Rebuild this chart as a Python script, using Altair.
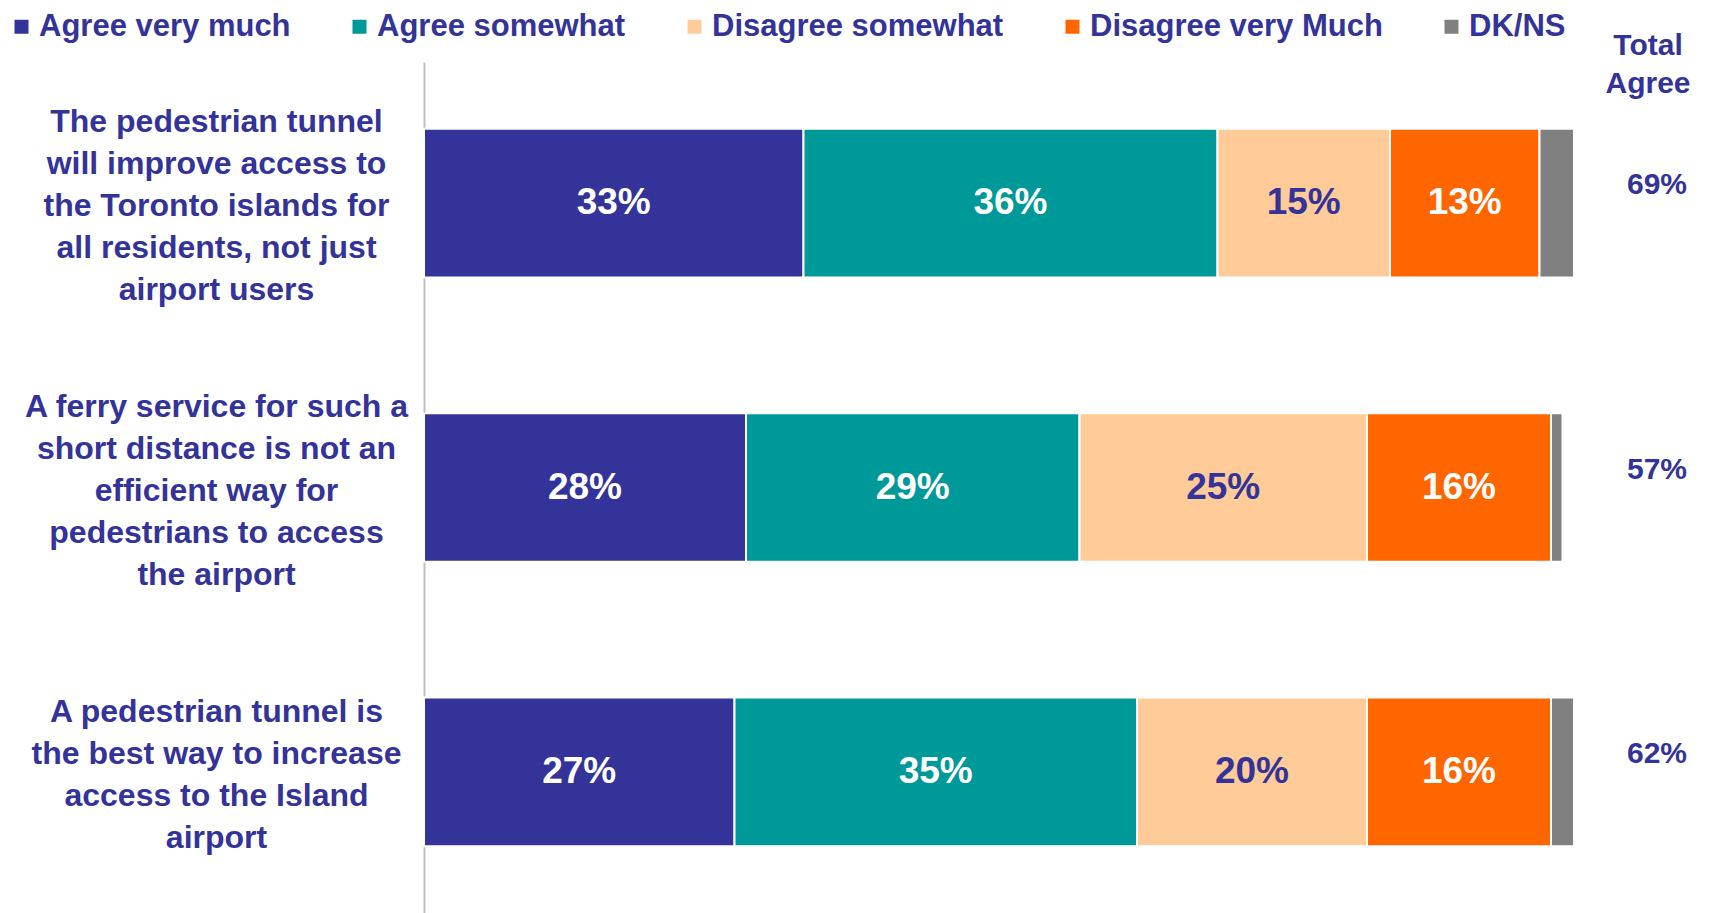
import altair as alt
import pandas as pd

questions = [
    "The pedestrian tunnel\nwill improve access to\nthe Toronto islands for\nall residents, not just\nairport users",
    "A ferry service for such a\nshort distance is not an\nefficient way for\npedestrians to access\nthe airport",
    "A pedestrian tunnel is\nthe best way to increase\naccess to the Island\nairport",
]
series = ["Agree very much", "Agree somewhat", "Disagree somewhat", "Disagree very Much", "DK/NS"]
colors = ["#333399", "#009999", "#FFCC99", "#FF6600", "#808080"]
label_colors = ["#FFFFFF", "#FFFFFF", "#333399", "#FFFFFF", "#FFFFFF"]

agree_very = [33, 28, 27]
agree_some = [36, 29, 35]
disagree_some = [15, 25, 20]
disagree_very = [13, 16, 16]
dk_ns = [3, 1, 2]
total_agree = [69, 57, 62]

values_by_series = [agree_very, agree_some, disagree_some, disagree_very, dk_ns]

rows = []
for si, (s, vals) in enumerate(zip(series, values_by_series)):
    for qi, q in enumerate(questions):
        rows.append({
            "question": q,
            "series": s,
            "order": si,
            "value": vals[qi],
            "label": f"{vals[qi]}%" if s != "DK/NS" else "",
            "labelColor": label_colors[si],
        })
df = pd.DataFrame(rows)
tot = pd.DataFrame({"question": questions, "total": [f"{t}%" for t in total_agree]})

FONT = "Liberation Sans"
BLUE = "#333399"
LINE_H = 42

y_enc = alt.Y(
    "question:N",
    sort=questions,
    scale=alt.Scale(paddingInner=0.477, paddingOuter=0.235),
    axis=alt.Axis(
        title=None,
        ticks=False,
        domainColor="#BFBFBF",
        domainWidth=2,
        labelExpr="split(datum.label, '\\n')",
        labelAlign="center",
        labelBaseline="middle",
        labelPadding=208,
        labelOffset=alt.ExprRef(f"3 - (length(split(datum.label, '\\n')) - 1) * {LINE_H / 2}"),
        labelFont=FONT,
        labelFontSize=32,
        labelFontWeight="bold",
        labelColor=BLUE,
        labelLineHeight=LINE_H,
        labelLimit=0,
    ),
)

xscale = alt.Scale(domain=[0, 100], nice=False)

base = alt.Chart(df).transform_stack(
    stack="value", groupby=["question"], as_=["x0", "x1"], sort=[alt.SortField("order")]
)

bars = base.mark_bar(stroke="white", strokeWidth=2).encode(
    y=y_enc,
    x=alt.X("x0:Q", scale=xscale, axis=None),
    x2="x1:Q",
    color=alt.Color(
        "series:N",
        scale=alt.Scale(domain=series, range=colors),
        sort=series,
        legend=alt.Legend(
            title=None,
            orient="none",
            direction="horizontal",
            columns=5,
            legendX=-418,
            legendY=-51,
            symbolType="square",
            symbolSize=196,
            symbolStrokeWidth=0,
            labelFont=FONT,
            labelFontSize=31,
            labelFontWeight="bold",
            labelColor=BLUE,
            labelOffset=2,
            columnPadding=53,
            labelLimit=0,
        ),
    ),
)

labels = base.transform_calculate(mid="(datum.x0 + datum.x1) / 2").mark_text(
    font=FONT, fontSize=37, fontWeight="bold", baseline="middle", align="center"
).encode(
    y=alt.Y("question:N", sort=questions),
    x=alt.X("mid:Q", scale=xscale),
    text="label:N",
    color=alt.Color("labelColor:N", scale=None),
)

totals = alt.Chart(tot).mark_text(
    font=FONT, fontSize=30, fontWeight="bold", color=BLUE, align="center", baseline="middle", dy=-18
).encode(
    y=alt.Y("question:N", sort=questions),
    x=alt.value(1233),
    text="total:N",
)

header = alt.Chart(pd.DataFrame({"t": ["Total\nAgree"]})).mark_text(
    font=FONT, fontSize=30, fontWeight="bold", color=BLUE, align="center",
    baseline="middle", lineBreak="\n", lineHeight=38
).encode(
    x=alt.value(1224),
    y=alt.value(-16),
    text="t:N",
)

chart = alt.layer(bars, labels, totals, header).properties(
    width=1150,
    height=851,
    padding={"left": 416, "top": 54, "right": 119, "bottom": 0},
    autosize=alt.AutoSizeParams(type="none"),
).configure_view(stroke=None)

chart.save("out.html", embed_options={"renderer": "svg", "actions": False})
